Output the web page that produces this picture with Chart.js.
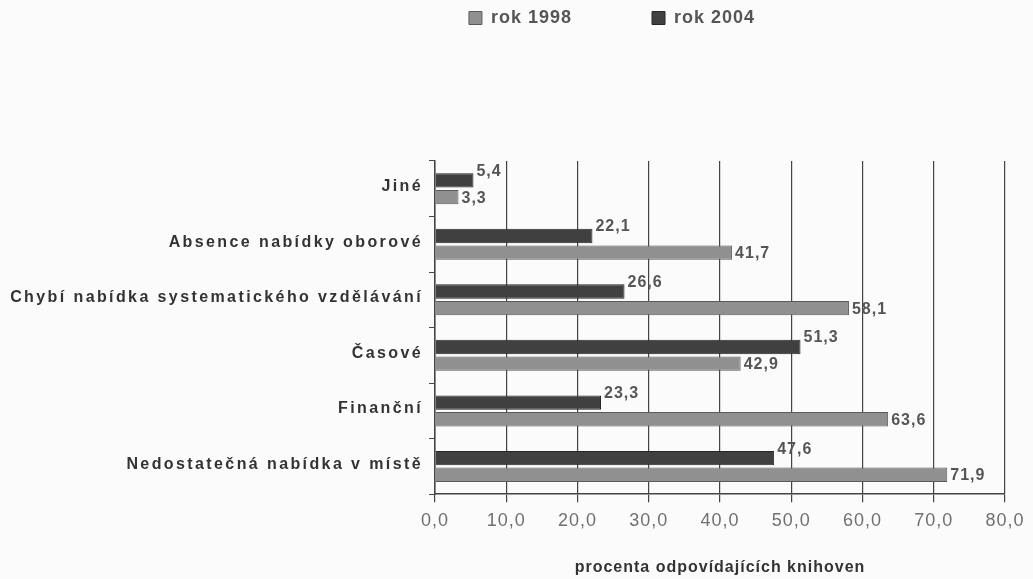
<!DOCTYPE html>
<html lang="cs">
<head>
  <meta charset="UTF-8" />
  <title>Bariéry vzdělávání</title>
  <script src="https://cdn.jsdelivr.net/npm/chart.js"></script>
  <style>
    body {
      margin: 0;
      background: #fbfbfb;
      font-family: "Liberation Sans", Arial, sans-serif;
    }
    .wrap {
      width: 1033px;
      height: 579px;
    }
  </style>
</head>
<body>
  <div class="wrap">
    <canvas id="chart" width="1033" height="579"></canvas>
  </div>

  <script>
    const categories = [
      'Jiné',
      'Absence nabídky oborové',
      'Chybí nabídka systematického vzdělávání',
      'Časové',
      'Finanční',
      'Nedostatečná nabídka v místě'
    ];
    const rok1998 = [3.3, 41.7, 58.1, 42.9, 63.6, 71.9];
    const rok2004 = [5.4, 22.1, 26.6, 51.3, 23.3, 47.6];
    const xTicks = [0, 10, 20, 30, 40, 50, 60, 70, 80];

    const FONT = '"Liberation Sans", Arial, sans-serif';
    const fmt = v => v.toFixed(1).replace('.', ',');

    // the scanned original has loose letter spacing everywhere
    const spacing = {
      id: 'spacing',
      beforeLayout(chart) { chart.ctx.letterSpacing = '1px'; },
      beforeDraw(chart) { chart.ctx.letterSpacing = '1px'; }
    };

    // category names, drawn by hand so they can get wider spacing
    const catLabels = {
      id: 'catLabels',
      afterDraw(chart) {
        const ctx = chart.ctx;
        const y = chart.scales.y;
        ctx.save();
        ctx.letterSpacing = '2.4px';
        ctx.font = 'bold 16px ' + FONT;
        ctx.fillStyle = '#333';
        ctx.textAlign = 'right';
        ctx.textBaseline = 'middle';
        categories.forEach((c, i) => {
          ctx.fillText(c, chart.chartArea.left - 12, y.getPixelForValue(i) - 2);
        });
        ctx.restore();
      }
    };

    // value labels at the bar ends
    const valueLabels = {
      id: 'valueLabels',
      afterDatasetsDraw(chart) {
        const ctx = chart.ctx;
        ctx.save();
        ctx.font = 'bold 16px ' + FONT;
        ctx.fillStyle = '#555';
        ctx.textBaseline = 'middle';
        chart.data.datasets.forEach((ds, i) => {
          const meta = chart.getDatasetMeta(i);
          meta.data.forEach((bar, j) => {
            const dy = i === 0 ? -9 : 1;
            ctx.fillText(fmt(ds.data[j]), bar.x + 3, bar.y + dy);
          });
        });
        ctx.restore();
      }
    };

    // move the legend up to where it sits in the original
    const legendSpot = {
      id: 'legendSpot',
      afterLayout(chart) {
        const lg = chart.legend;
        const w = lg.right - lg.left;
        lg.left = 612 - w / 2;
        lg.right = 612 + w / 2;
        lg.top = -71;
        lg.bottom = 40;
      }
    };

    new Chart(document.getElementById('chart'), {
      type: 'bar',
      data: {
        labels: categories,
        datasets: [
          {
            label: 'rok 2004',
            data: rok2004,
            backgroundColor: '#404040',
            borderColor: '#262626',
            borderWidth: 1,
            categoryPercentage: 0.6,
            barPercentage: 0.86
          },
          {
            label: 'rok 1998',
            data: rok1998,
            backgroundColor: '#909090',
            borderColor: '#5a5a5a',
            borderWidth: 1,
            categoryPercentage: 0.6,
            barPercentage: 0.86
          }
        ]
      },
      options: {
        indexAxis: 'y',
        responsive: false,
        animation: false,
        layout: { padding: { top: 53, left: 8, right: 28, bottom: 0 } },
        plugins: {
          legend: {
            position: 'top',
            labels: {
              boxWidth: 13,
              boxHeight: 13,
              padding: 80,
              color: '#555',
              font: { size: 18, weight: 'bold', family: FONT },
              sort: (a, b) => b.datasetIndex - a.datasetIndex
            }
          },
          tooltip: { enabled: false }
        },
        scales: {
          x: {
            min: 0,
            max: 80,
            afterBuildTicks: axis => { axis.ticks = xTicks.map(v => ({ value: v })); },
            ticks: {
              color: '#707070',
              padding: 8,
              font: { size: 18, family: FONT },
              callback: v => fmt(v)
            },
            grid: { color: '#444', lineWidth: 1.2, tickLength: 8 },
            border: { color: '#444', width: 1.5 },
            title: {
              display: true,
              text: 'procenta odpovídajících knihoven',
              color: '#333',
              padding: { top: 18, bottom: 2 },
              font: { size: 16, weight: 'bold', family: FONT }
            }
          },
          y: {
            afterFit: s => { s.width = 427; },
            ticks: { display: false },
            grid: { drawOnChartArea: false, offset: true, tickLength: 6, color: '#444' },
            border: { color: '#444', width: 1.5 }
          }
        }
      },
      plugins: [spacing, catLabels, valueLabels, legendSpot]
    });
  </script>
</body>
</html>
